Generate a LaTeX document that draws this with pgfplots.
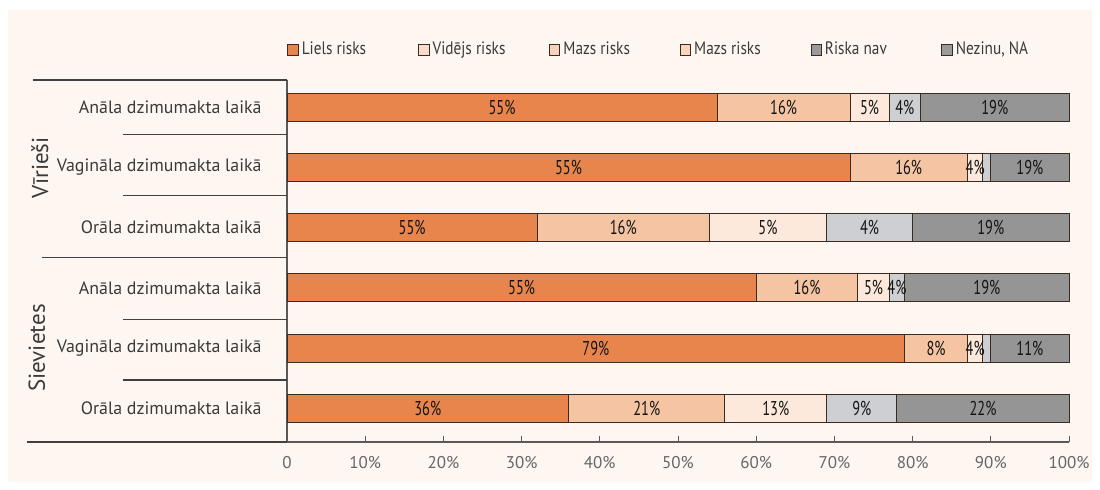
\documentclass[border=0pt]{standalone}
\usepackage{fontspec}
\setmainfont{PT Sans}
\usepackage{graphicx}
\usepackage{pgfplots}
\pgfplotsset{compat=1.18}
\usepackage{pgfplotstable}

\definecolor{bg}{HTML}{FEF6F1}
\definecolor{c1}{HTML}{E8854C}
\definecolor{c2}{HTML}{F5C4A2}
\definecolor{c3}{HTML}{FCE9DC}
\definecolor{c4}{HTML}{CDCFD2}
\definecolor{c5}{HTML}{959595}
\definecolor{g2}{HTML}{FADCC8}
\definecolor{g3}{HTML}{F8D2BA}
\definecolor{g4}{HTML}{F9D5BE}
\definecolor{g5}{HTML}{9A9A9A}
\definecolor{txt}{HTML}{3A3A3A}
\definecolor{edge}{HTML}{3A2A20}

% rows: y=5 top (Viriesi Anala) ... y=0 bottom (Sievietes Orala)
\pgfplotstableread{
row v1 l1 v2 l2 v3 l3 v4 l4 v5 l5
5 55 55\% 17 16\% 5 5\% 4 4\% 19 19\%
4 72 55\% 15 16\% 2 4\% 1 {} 10 19\%
3 32 55\% 22 16\% 15 5\% 11 4\% 20 19\%
2 60 55\% 13 16\% 4 5\% 2 4\% 21 19\%
1 79 79\% 8 8\% 2 4\% 1 {} 10 11\%
0 36 36\% 20 21\% 13 13\% 9 9\% 22 22\%
}\data

\newcommand\lgd[1]{\makebox[56.7bp][l]{\scalebox{0.85}[1]{#1}}}

\begin{document}
\begin{tikzpicture}
\path[use as bounding box] (0,0) rectangle (550bp,245bp);
\fill[white] (0,0) rectangle (550bp,245bp);
\fill[bg] (4bp,4bp) rectangle (546bp,240bp);
\begin{axis}[
  at={(143.5bp,24bp)}, anchor=south west,
  scale only axis, width=391bp, height=181bp,
  xbar stacked, bar width=14bp,
  xmin=0, xmax=100, ymin=-0.56, ymax=5.45,
  ytick={0,...,5},
  yticklabels={Orāla dzimumakta laikā, Vagināla dzimumakta laikā, Anāla dzimumakta laikā,
               Orāla dzimumakta laikā, Vagināla dzimumakta laikā, Anāla dzimumakta laikā},
  xtick={0,10,...,100},
  xticklabels={0,10\%,20\%,30\%,40\%,50\%,60\%,70\%,80\%,90\%,100\%},
  axis x line*=bottom, axis y line*=left,
  axis line style={draw=black!65, line width=0.6bp},
  xtick align=inside, major tick length=3bp,
  xtick style={draw=black!65, line width=0.5bp},
  ytick style={draw=none},
  yticklabel style={font=\fontsize{8.95bp}{10bp}\selectfont, text=txt, anchor=east, inner sep=0pt, xshift=-12.5bp},
  xticklabel style={font=\fontsize{8.5bp}{10bp}\selectfont, text=black!60, inner sep=0pt, yshift=-7bp},
  point meta=explicit symbolic,
  nodes near coords={\scalebox{0.72}[1]{\pgfplotspointmeta}},
  every node near coord/.append style={anchor=center, inner sep=0pt,
      font=\fontsize{10bp}{11bp}\selectfont, text=black!92},
  clip=false,
  legend columns=6,
  legend style={at={(0,1.083)}, anchor=west, draw=none, fill=none, inner sep=0pt,
    font=\fontsize{9bp}{10bp}\selectfont, text=txt,
    nodes={inner sep=1.5bp},
    /tikz/every even column/.append style={column sep=0bp}},
  legend image code/.code={\draw[#1, line width=0.5bp] (0bp,-2.6bp) rectangle (5.2bp,2.6bp);},
  legend entries={\lgd{Liels risks},\lgd{Vidējs risks},\lgd{Mazs risks},\lgd{Mazs risks},\lgd{Riska nav},\lgd{Nezinu, NA}},
]
\addlegendimage{fill=c1, draw=edge}
\addlegendimage{fill=g2, draw=edge}
\addlegendimage{fill=g3, draw=edge}
\addlegendimage{fill=g4, draw=edge}
\addlegendimage{fill=g5, draw=edge}
\addlegendimage{fill=g5, draw=edge}

\addplot[fill=c1, draw=edge, line width=0.5bp] table[x=v1, y=row, meta=l1] {\data};
\addplot[fill=c2, draw=edge, line width=0.5bp] table[x=v2, y=row, meta=l2] {\data};
\addplot[fill=c3, draw=edge, line width=0.5bp] table[x=v3, y=row, meta=l3] {\data};
\addplot[fill=c4, draw=edge, line width=0.5bp] table[x=v4, y=row, meta=l4] {\data};
\addplot[fill=c5, draw=edge, line width=0.5bp] table[x=v5, y=row, meta=l5] {\data};

% left separator lines
\draw[black!75, line width=0.6bp] (axis cs:-32.5,5.45) -- (axis cs:0,5.45);
\draw[black!75, line width=0.6bp] (axis cs:-20.97,4.55) -- (axis cs:0,4.55);
\draw[black!75, line width=0.6bp] (axis cs:-20.97,3.53) -- (axis cs:0,3.53);
\draw[black!75, line width=0.6bp] (axis cs:-31.3,2.5) -- (axis cs:0,2.5);
\draw[black!75, line width=0.6bp] (axis cs:-20.97,1.48) -- (axis cs:0,1.48);
\draw[black!75, line width=0.6bp] (axis cs:-20.97,0.47) -- (axis cs:0,0.47);
\draw[black!75, line width=0.6bp] (axis cs:-33.25,-0.56) -- (axis cs:0,-0.56);
\node[rotate=90, font=\fontsize{11.5bp}{13bp}\selectfont, text=txt] at (axis cs:-31.6,3.99) {Vīrieši};
\node[rotate=90, font=\fontsize{11.5bp}{13bp}\selectfont, text=txt] at (axis cs:-32,1.0) {Sievietes};
\end{axis}
\end{tikzpicture}
\end{document}
